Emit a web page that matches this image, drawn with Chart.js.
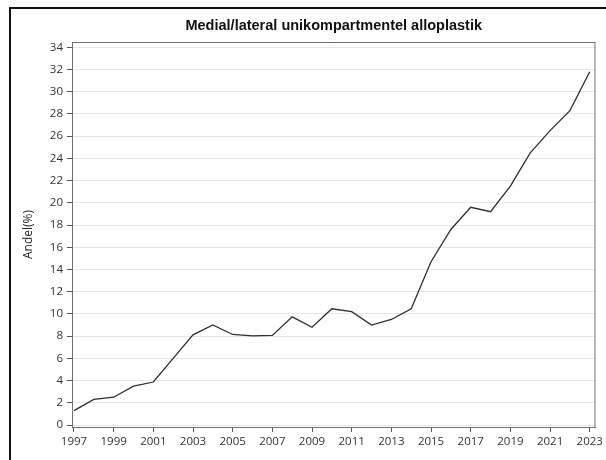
<!DOCTYPE html>
<html>
<head>
<meta charset="utf-8">
<script src="https://cdn.jsdelivr.net/npm/chart.js@4/dist/chart.umd.min.js"></script>
<style>
  html, body { margin: 0; padding: 0; background: #fff; }
  #wrap { position: relative; width: 606px; height: 460px; }
  #frame { position: absolute; left: 9px; top: 7px; right: 0; bottom: 0; border-top: 2px solid #111; border-left: 2px solid #111; pointer-events: none; }
</style>
</head>
<body>
<div id="wrap">
  <canvas id="chart" width="606" height="460"></canvas>
  <div id="frame"></div>
</div>
<script>
// Medial/lateral unikompartmentel alloplastik, andel per år.
const years = [1997, 1998, 1999, 2000, 2001, 2002, 2003, 2004, 2005, 2006, 2007, 2008, 2009, 2010,
  2011, 2012, 2013, 2014, 2015, 2016, 2017, 2018, 2019, 2020, 2021, 2022, 2023];
const andel = [1.3, 2.3, 2.5, 3.5, 3.87, 6.0, 8.12, 9.0, 8.15, 8.03, 8.06, 9.74, 8.8, 10.46,
  10.2, 9.0, 9.5, 10.46, 14.7, 17.6, 19.6, 19.2, 21.5, 24.5, 26.5, 28.3, 31.8];
const xTicks = [1997, 1999, 2001, 2003, 2005, 2007, 2009, 2011, 2013, 2015, 2017, 2019, 2021, 2023];
const yTicks = [0, 2, 4, 6, 8, 10, 12, 14, 16, 18, 20, 22, 24, 26, 28, 30, 32, 34];

const FONT = "'Open Sans', 'Noto Sans', sans-serif";

// box round the plot area (top and right sides too)
const plotFrame = {
  id: 'plotFrame',
  afterDraw(c) {
    const a = c.chartArea, g = c.ctx;
    g.save();
    g.strokeStyle = '#707070'; g.lineWidth = 1;
    g.strokeRect(a.left + 0.5, a.top + 0.5, a.right - a.left - 1, a.bottom - a.top);
    g.restore();
  },
};

new Chart(document.getElementById('chart').getContext('2d'), {
  type: 'line',
  data: {
    datasets: [{
      label: 'Andel',
      data: years.map((y, i) => ({ x: y, y: andel[i] })),
      borderColor: '#2e2e2e', borderWidth: 1.3, pointRadius: 0, tension: 0, fill: false,
    }],
  },
  options: {
    responsive: false, animation: false,
    layout: { padding: { left: 0, right: 8, top: 0, bottom: 0 } },
    plugins: {
      legend: { display: false }, tooltip: { enabled: false },
      title: {
        display: true, fullSize: false, text: 'Medial/lateral unikompartmentel alloplastik',
        color: '#111', font: { family: "'Liberation Sans', Arial, sans-serif", size: 14.5, weight: 'bold', lineHeight: 1.2 },
        padding: { top: 17, bottom: 7.6 },
      },
    },
    scales: {
      x: {
        type: 'linear', min: 1996.9, max: 2023.29,
        afterBuildTicks: (s) => { s.ticks = xTicks.map((v) => ({ value: v })); },
        afterFit: (s) => { s.height = 33; },
        ticks: { autoSkip: false, maxRotation: 0, padding: 3, color: '#333', font: { family: FONT, size: 11.5 }, callback: (v) => String(v) },
        grid: { drawOnChartArea: false, drawTicks: true, tickLength: 5, tickColor: '#555' },
        border: { color: '#707070', width: 1 },
      },
      y: {
        min: -0.18, max: 34.48,
        afterBuildTicks: (s) => { s.ticks = yTicks.map((v) => ({ value: v })); },
        afterFit: (s) => { s.width = 72; },
        ticks: { autoSkip: false, padding: 4, color: '#333', font: { family: FONT, size: 11.5 }, callback: (v) => String(v) },
        grid: { color: '#e6e6e6', lineWidth: 1, tickLength: 5, tickColor: '#555' },
        border: { color: '#707070', width: 1 },
        title: { display: true, text: 'Andel(%)', color: '#222', font: { family: FONT, size: 12, lineHeight: 1.2 }, padding: { top: 21, bottom: 0 } },
      },
    },
  },
  plugins: [plotFrame],
});
</script>
</body>
</html>
